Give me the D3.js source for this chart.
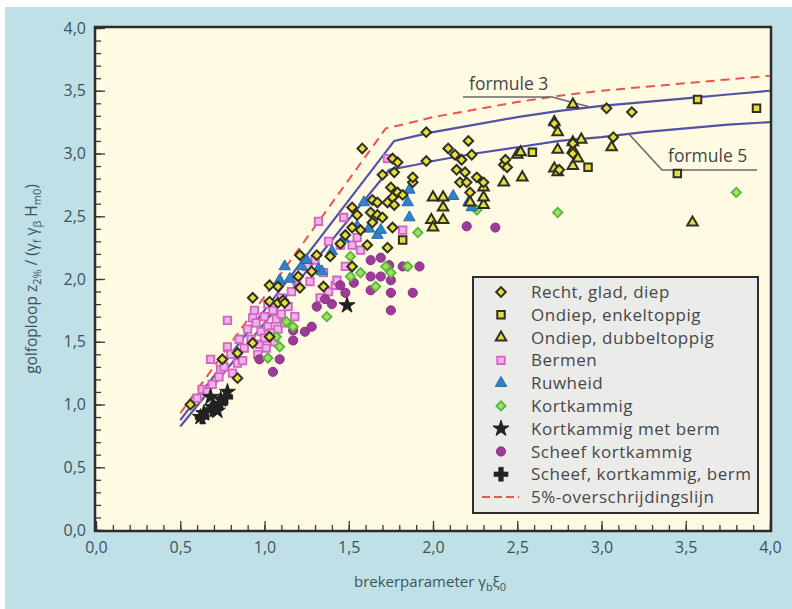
<!DOCTYPE html>
<html><head><meta charset="utf-8">
<script src="https://cdn.jsdelivr.net/npm/d3@7"></script>
<style>
body{margin:0;background:#fff;}
svg{display:block;font-family:"Open Sans","Noto Sans",sans-serif;}
</style>
</head><body>
<svg id="chart" width="792" height="609"></svg>
<script>
// ---------- data ----------
const xTickValues = [0, 0.5, 1, 1.5, 2, 2.5, 3, 3.5, 4];
const xTickLabels = ["0,0","0,5","1,0","1,5","2,0","2,5","3,0","3,5","4,0"];
const yTickValues = [0, 0.5, 1, 1.5, 2, 2.5, 3, 3.5, 4];
const yTickLabels = ["0,0","0,5","1,0","1,5","2,0","2,5","3,0","3,5","4,0"];

const formule3 = [[0.5,0.875],[1.77,3.10],[1.9,3.14],[2.0,3.17],[2.25,3.23],[2.5,3.29],[2.75,3.34],[3.0,3.38],[3.25,3.41],[3.5,3.44],[3.75,3.47],[4.0,3.50]];
const formule5 = [[0.5,0.825],[1.74,2.87],[1.9,2.91],[2.0,2.94],[2.25,3.00],[2.5,3.05],[2.75,3.10],[3.0,3.13],[3.25,3.17],[3.5,3.20],[3.75,3.23],[4.0,3.25]];
const lijn5pct = [[0.5,0.93],[1.72,3.20],[1.85,3.24],[2.0,3.29],[2.25,3.35],[2.5,3.41],[2.75,3.46],[3.0,3.50],[3.25,3.53],[3.5,3.56],[3.75,3.59],[4.0,3.62]];

const rechtGladDiep = [[0.56,1.00],[0.75,1.36],[0.84,1.21],[0.84,1.41],[0.93,1.49],[1.03,1.54],[0.93,1.85],[1.03,1.82],[1.08,1.81],[1.11,1.83],[1.03,1.95],[1.08,1.94],[1.12,1.81],[1.20,2.02],[1.21,1.93],[1.21,2.19],[1.28,2.06],[1.31,2.19],[1.35,1.94],[1.39,2.18],[1.45,2.28],[1.48,2.35],[1.52,2.10],[1.52,2.41],[1.52,2.57],[1.55,2.51],[1.57,2.39],[1.58,3.04],[1.61,2.27],[1.63,2.53],[1.64,2.45],[1.64,2.63],[1.67,2.51],[1.67,2.61],[1.70,2.49],[1.70,2.83],[1.73,2.25],[1.73,2.61],[1.75,2.73],[1.76,2.41],[1.76,2.65],[1.76,2.96],[1.77,2.59],[1.77,2.85],[1.79,2.69],[1.79,2.93],[1.82,2.67],[1.88,2.77],[1.88,2.81],[1.96,2.94],[1.96,3.17],[2.09,3.04],[2.13,2.99],[2.14,2.87],[2.16,2.77],[2.17,2.95],[2.19,2.85],[2.20,2.77],[2.21,3.10],[2.22,2.69],[2.23,2.99],[2.26,2.81],[2.30,2.77],[2.42,2.91],[2.43,2.95],[2.44,2.89],[2.75,2.87],[2.72,3.24],[2.83,3.08],[2.83,3.00],[3.03,3.36],[3.07,3.13],[3.18,3.33]];
const ondiepEnkeltoppig = [[1.82,2.31],[2.59,3.01],[2.92,2.89],[3.45,2.84],[3.57,3.43],[3.92,3.36]];
const ondiepDubbeltoppig = [[1.99,2.47],[2.00,2.41],[2.00,2.65],[2.06,2.47],[2.06,2.57],[2.06,2.65],[2.22,2.61],[2.30,2.59],[2.30,2.65],[2.30,2.73],[2.42,2.77],[2.50,2.99],[2.52,3.01],[2.53,2.81],[2.72,2.88],[2.72,3.25],[2.74,2.85],[2.74,3.03],[2.74,3.17],[2.83,2.90],[2.83,3.03],[2.83,3.09],[2.83,3.39],[2.86,2.96],[2.88,3.11],[3.06,3.05],[3.54,2.45]];
const bermen = [[0.60,1.05],[0.63,1.12],[0.66,1.10],[0.68,1.36],[0.69,1.16],[0.73,1.22],[0.74,1.28],[0.76,1.30],[0.78,1.46],[0.78,1.67],[0.80,1.40],[0.81,1.25],[0.84,1.33],[0.85,1.52],[0.87,1.35],[0.88,1.45],[0.90,1.60],[0.92,1.52],[0.93,1.69],[0.94,1.75],[0.95,1.65],[0.96,1.40],[0.97,1.48],[0.98,1.58],[1.00,1.53],[1.00,1.70],[1.01,1.45],[1.02,1.62],[1.02,1.80],[1.04,1.57],[1.05,1.75],[1.06,1.50],[1.07,1.68],[1.08,1.60],[1.10,1.72],[1.10,1.85],[1.12,1.65],[1.14,1.78],[1.16,1.90],[1.18,1.70],[1.19,1.99],[1.25,2.10],[1.27,1.98],[1.30,2.15],[1.32,2.46],[1.33,1.85],[1.35,2.05],[1.38,1.90],[1.38,2.30],[1.42,1.95],[1.43,1.99],[1.45,2.27],[1.47,2.49],[1.48,2.10],[1.52,2.27],[1.55,2.33],[1.57,2.23],[1.73,2.96],[1.82,2.39]];
const ruwheid = [[1.09,1.99],[1.12,2.10],[1.15,2.00],[1.22,2.10],[1.25,2.15],[1.32,2.08],[1.34,2.06],[1.40,2.22],[1.47,2.32],[1.55,2.42],[1.59,2.61],[1.62,2.40],[1.67,2.35],[1.69,2.39],[1.85,2.61],[1.86,2.49],[1.86,2.71],[2.12,2.66],[2.21,2.61],[2.23,2.57]];
const kortkammig = [[1.02,1.37],[1.07,1.54],[1.09,1.46],[1.13,1.66],[1.17,1.62],[1.37,1.70],[1.51,2.02],[1.51,2.18],[1.52,2.10],[1.57,2.05],[1.66,1.94],[1.72,2.10],[1.75,2.05],[1.85,2.10],[1.91,2.37],[2.26,2.55],[2.74,2.53],[3.80,2.69]];
const kortkammigMetBerm = [[0.62,0.90],[0.64,0.93],[0.68,1.06],[0.69,0.98],[0.72,0.95],[0.74,1.04],[0.78,1.10],[1.49,1.79]];
const scheefKortkammig = [[0.97,1.36],[1.05,1.26],[1.09,1.36],[1.17,1.51],[1.17,1.59],[1.24,1.58],[1.28,1.62],[1.31,1.78],[1.36,1.84],[1.40,1.80],[1.45,1.95],[1.48,1.89],[1.53,1.97],[1.63,1.91],[1.63,2.02],[1.63,2.15],[1.69,2.02],[1.69,2.17],[1.74,2.11],[1.75,1.75],[1.75,1.89],[1.75,1.99],[1.82,2.10],[1.88,1.89],[1.92,2.10],[2.20,2.42],[2.37,2.41]];
const scheefKortkammigBerm = [[0.63,0.90],[0.69,0.96],[0.74,1.01],[0.77,1.06]];

const legendLabels = ["Recht, glad, diep","Ondiep, enkeltoppig","Ondiep, dubbeltoppig","Bermen","Ruwheid","Kortkammig","Kortkammig met berm","Scheef kortkammig","Scheef, kortkammig, berm","5%-overschrijdingslijn"];

// ---------- setup ----------
const svg = d3.select("#chart");
const W = 792, H = 609;
const L = 96, R = 770, T = 28, B = 530;
const x = d3.scaleLinear().domain([0,4]).range([L,R]);
const y = d3.scaleLinear().domain([0,4]).range([B,T]);

svg.append("rect").attr("x",0).attr("y",0).attr("width",W).attr("height",H).attr("fill","#ffffff");
svg.append("rect").attr("x",5).attr("y",7).attr("width",W-5).attr("height",H-7).attr("fill","#bfe0e6");
svg.append("rect").attr("x",L-1).attr("y",T-1).attr("width",R-L+2).attr("height",B-T+2).attr("fill","#fffbe2");

// ---------- axes ----------
const tickColor = "#3a3a3a";
const labelColor = "#3d545c";
const xMinor = svg.append("g").attr("transform",`translate(0,${B})`)
  .call(d3.axisBottom(x).tickValues(d3.range(0,4.001,0.1)).tickSize(-5).tickFormat(""));
const yMinor = svg.append("g").attr("transform",`translate(${L},0)`)
  .call(d3.axisLeft(y).tickValues(d3.range(0,4.001,0.1)).tickSize(-5).tickFormat(""));
const xAxis = svg.append("g").attr("transform",`translate(0,${B})`)
  .call(d3.axisBottom(x).tickValues(xTickValues).tickSize(-9).tickPadding(12).tickFormat((d,i)=>xTickLabels[i]));
const yAxis = svg.append("g").attr("transform",`translate(${L},0)`)
  .call(d3.axisLeft(y).tickValues(yTickValues).tickSize(-9).tickPadding(10).tickFormat((d,i)=>yTickLabels[i]));
[xMinor,yMinor,xAxis,yAxis].forEach(g=>{
  g.select(".domain").remove();
  g.selectAll(".tick line").attr("stroke",tickColor).attr("stroke-width",1.3);
  g.selectAll(".tick text").attr("fill",labelColor).style("font-size","16px").style("font-family","'Open Sans',sans-serif");
});

svg.append("rect").attr("x",L-1).attr("y",T-1).attr("width",R-L+2).attr("height",B-T+2)
  .attr("fill","none").attr("stroke","#2b2b2b").attr("stroke-width",2.5);

// axis titles
const xt = svg.append("text").attr("x",(L+R)/2 - 3).attr("y",587).attr("text-anchor","middle")
  .attr("fill",labelColor).style("font-size","15px");
xt.append("tspan").text("brekerparameter γ");
xt.append("tspan").text("b").attr("dy",4).style("font-size","11px");
xt.append("tspan").text("ξ").attr("dy",-4);
xt.append("tspan").text("0").attr("dy",4).style("font-size","11px");

const yt = svg.append("text").attr("transform",`translate(37,${(T+B)/2}) rotate(-90)`).attr("text-anchor","middle")
  .attr("fill",labelColor).style("font-size","15.5px");
yt.append("tspan").text("golfoploop z");
yt.append("tspan").text("2%").attr("dy",4).style("font-size","11px");
yt.append("tspan").text(" / (γ").attr("dy",-4);
yt.append("tspan").text("f").attr("dy",4).style("font-size","11px");
yt.append("tspan").text(" γ").attr("dy",-4);
yt.append("tspan").text("β").attr("dy",4).style("font-size","11px");
yt.append("tspan").text(" H").attr("dy",-4);
yt.append("tspan").text("m0").attr("dy",4).style("font-size","11px");
yt.append("tspan").text(")").attr("dy",-4);

// ---------- lines ----------
const line = d3.line().x(d=>x(d[0])).y(d=>y(d[1])).curve(d3.curveLinear);
const plotG = svg.append("g");
plotG.append("path").datum(lijn5pct).attr("d",line).attr("fill","none")
  .attr("stroke","#e8554c").attr("stroke-width",2).attr("stroke-dasharray","9,6");
[formule3, formule5].forEach(f=>{
  plotG.append("path").datum(f).attr("d",line).attr("fill","none").attr("stroke","#5252a6").attr("stroke-width",2.2);
});

// formula labels with leaders
const lab = svg.append("g").attr("fill","#454545").style("font-size","17.5px");
lab.append("text").attr("x",469).attr("y",90).text("formule 3");
lab.append("polyline").attr("points",`463,97 552,97 ${x(2.92)},${y(3.375)}`).attr("fill","none").attr("stroke","#6a6a6a").attr("stroke-width",1.6);
lab.append("text").attr("x",668).attr("y",162).text("formule 5");
lab.append("polyline").attr("points",`${x(3.16)},${y(3.16)} 662,170 757,170`).attr("fill","none").attr("stroke","#6a6a6a").attr("stroke-width",1.6);

// ---------- markers ----------
const yellowFill = "#e6df3a", darkStroke = "#2f2f26";
const styles = {
  diamond:  {type:d3.symbolSquare, size:46, rot:45, fill:yellowFill, stroke:darkStroke, sw:2},
  square:   {type:d3.symbolSquare, size:56, rot:0, fill:yellowFill, stroke:darkStroke, sw:2},
  triangle: {type:d3.symbolTriangle, size:48, rot:0, fill:yellowFill, stroke:darkStroke, sw:2},
  bermen:   {type:d3.symbolSquare, size:56, rot:0, fill:"#eeb4e6", stroke:"#d463c6", sw:1.8},
  ruw:      {type:d3.symbolTriangle, size:56, rot:0, fill:"#2f82cc", stroke:"#2468ad", sw:1},
  kort:     {type:d3.symbolSquare, size:44, rot:45, fill:"#a6dc6c", stroke:"#55b83a", sw:1.8},
  star:     {type:d3.symbolStar, size:80, rot:0, fill:"#222", stroke:"#222", sw:1},
  circle:   {type:d3.symbolCircle, size:66, rot:0, fill:"#9c3c98", stroke:"#8a2e88", sw:1},
  plus:     {type:d3.symbolCross, size:110, rot:0, fill:"#222", stroke:"#222", sw:0.5}
};
const series = [
  {data:bermen, st:"bermen"},
  {data:scheefKortkammig, st:"circle"},
  {data:kortkammig, st:"kort"},
  {data:ruwheid, st:"ruw"},
  {data:ondiepDubbeltoppig, st:"triangle"},
  {data:ondiepEnkeltoppig, st:"square"},
  {data:rechtGladDiep, st:"diamond"},
  {data:kortkammigMetBerm, st:"star"},
  {data:scheefKortkammigBerm, st:"plus"}
];
function drawSym(g, st, px, py){
  const s = styles[st];
  g.append("path").attr("d", d3.symbol().type(s.type).size(s.size)())
    .attr("transform", `translate(${px},${py}) rotate(${s.rot})`)
    .attr("fill", s.fill).attr("stroke", s.stroke).attr("stroke-width", s.sw);
}
const markG = svg.append("g");
series.forEach(se=>{
  se.data.forEach(d=>drawSym(markG, se.st, x(d[0]), y(d[1])));
});

// ---------- legend ----------
const lg = svg.append("g");
lg.append("rect").attr("x",473).attr("y",277).attr("width",285).attr("height",236)
  .attr("fill","#ebebea").attr("stroke","#2e2e2e").attr("stroke-width",2);
const legendStyles = ["diamond","square","triangle","bermen","ruw","kort","star","circle","plus"];
const rowY = d3.scalePoint().domain(d3.range(legendLabels.length)).range([292,497]);
legendLabels.forEach((t,i)=>{
  const yy = rowY(i);
  if (i < legendStyles.length) {
    drawSym(lg, legendStyles[i], 501, yy);
  } else {
    lg.append("line").attr("x1",482).attr("x2",519).attr("y1",yy).attr("y2",yy)
      .attr("stroke","#e8554c").attr("stroke-width",2).attr("stroke-dasharray","8,4");
  }
  lg.append("text").attr("x",531).attr("y",yy).attr("dy","0.36em").text(t)
    .attr("fill","#474747").style("font-size","17px").style("letter-spacing","0.5px");
});
</script>
</body></html>
